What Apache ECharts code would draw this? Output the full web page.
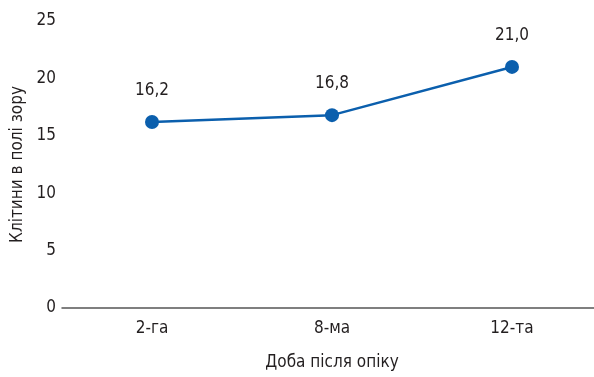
<!DOCTYPE html>
<html>
<head>
<meta charset="utf-8">
<script src="https://cdn.jsdelivr.net/npm/echarts@6/dist/echarts.min.js"></script>
<style>
html, body { margin: 0; padding: 0; background: #fff; overflow: hidden; }
#main { width: 602px; height: 377px; }
</style>
</head>
<body>
<div id="main"></div>
<script>
var days = ["2-га", "8-ма", "12-та"];
var cells = [16.2, 16.8, 21.0];
var yTicks = [0, 5, 10, 15, 20, 25];

var font = '"Liberation Sans Narrow", "DejaVu Sans Condensed", "Noto Sans", sans-serif';
var textColor = "#231f20";
var lineColor = "#0b5fad";

// chart is a bit wider than the window so the x axis runs off the right edge like the original
var chart = echarts.init(document.getElementById('main'));
chart.setOption({
	animation: false,
	textStyle: { fontFamily: font },
	grid: { left: 62, right: 0, top: 21, bottom: 69 },
	xAxis: {
		type: 'category',
		data: days,
		name: "Доба після опіку",
		nameLocation: 'middle',
		nameGap: 46,
		nameTextStyle: { fontFamily: font, fontSize: 17, color: textColor },
		axisLine: { lineStyle: { color: '#555', width: 1.5 } },
		axisTick: { show: false },
		axisLabel: { fontFamily: font, fontSize: 17, color: textColor, margin: 12 }
	},
	yAxis: {
		type: 'value',
		min: yTicks[0],
		max: yTicks[yTicks.length - 1],
		interval: 5,
		name: "Клітини в полі зору",
		nameLocation: 'middle',
		nameGap: 32,
		nameTextStyle: { fontFamily: font, fontSize: 17, color: textColor },
		axisLine: { show: false },
		axisTick: { show: false },
		splitLine: { show: false },
		axisLabel: { fontFamily: font, fontSize: 17, color: textColor, margin: 6 }
	},
	series: [{
		type: 'line',
		data: cells,
		symbol: 'circle',
		symbolSize: 14,
		lineStyle: { color: lineColor, width: 2.5 },
		itemStyle: { color: lineColor },
		label: {
			show: true,
			position: 'top',
			distance: 16,
			fontFamily: font,
			fontSize: 17,
			color: textColor,
			formatter: function(p) { return p.value.toFixed(1).replace('.', ','); }
		}
	}]
});
</script>
</body>
</html>
